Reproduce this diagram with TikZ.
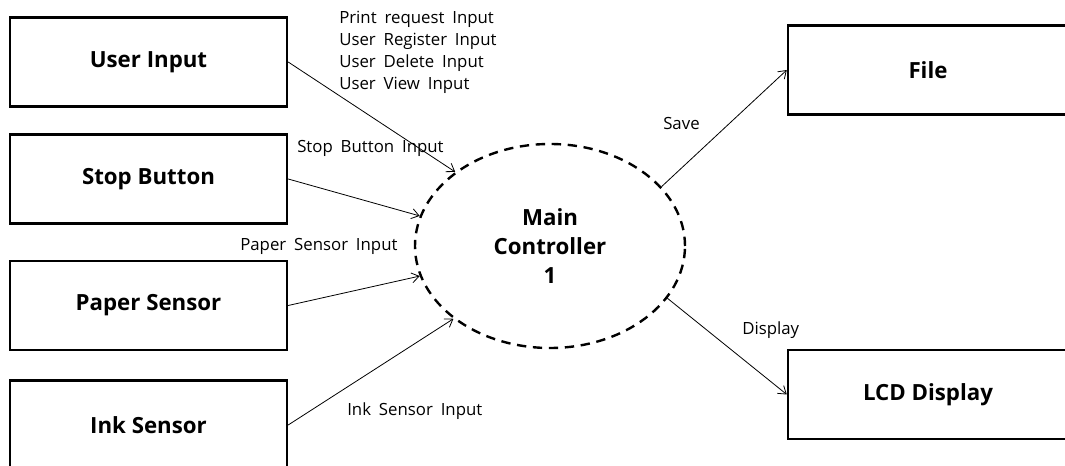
\documentclass[tikz,border=0pt]{standalone}
\usepackage{fontspec}
\setmainfont{Open Sans}
\newfontfamily\lblfont[WordSpace=1.8]{Open Sans}
\usetikzlibrary{arrows.meta,shapes.geometric}
\begin{document}
\begin{tikzpicture}[x=0.75pt,y=-0.75pt,
  box/.style={rectangle,draw,line width=1.8pt,minimum width=207.75pt,minimum height=66.75pt,
    font=\fontsize{16.7}{19}\selectfont\bfseries},
  proc/.style={ellipse,draw,dashed,dash pattern=on 7pt off 5pt,line width=1.8pt,
    minimum width=202.5pt,minimum height=153pt,align=center,
    font=\fontsize{16.7}{21.75}\selectfont\bfseries},
  lbl/.style={inner sep=0pt,align=left,font=\lblfont\fontsize{12.6}{16.5}\selectfont},
  flow/.style={line width=0.6pt,-{Straight Barb[length=5.5pt,width=7.5pt]}}]

  \useasboundingbox (0,0) rectangle (1065,466);
  \clip (0,0) rectangle (1065,466);

  \node[box] (user) at (148.5,62) {User Input};
  \node[box] (stop) at (148.5,179) {Stop Button};
  \node[box] (paper) at (148.5,305.5) {Paper Sensor};
  \node[box] (ink) at (148.5,425) {Ink Sensor};
  \node[box,minimum width=210pt] (file) at (928,70) {File};
  \node[box,minimum width=210pt] (lcd) at (928,394.5) {LCD Display};

  \node[proc] (ctrl) at (550,246) {Main\\Controller\\1};

  \path[flow]
   (user.east) edge (ctrl.142)
   (stop.east) edge (ctrl.167)
   (paper.east) edge (ctrl.193)
   (ink.east) edge (ctrl.217.5)
   (ctrl.28) edge (file.west)
   (ctrl.-24) edge (lcd.west);

  \node[lbl,anchor=north west] (userin) at (339,11) {Print request Input\\User Register Input\\User Delete Input\\User View Input};
  \node[lbl,anchor=base west] (stopin) at (297,153) {Stop Button Input};
  \node[lbl,anchor=base west] (paperin) at (240,251) {Paper Sensor Input};
  \node[lbl,anchor=base west] (inkin) at (347,416) {Ink Sensor Input};
  \node[lbl,anchor=base west] (save) at (663,130) {Save};
  \node[lbl,anchor=base west] (disp) at (742,335) {Display};
\end{tikzpicture}
\end{document}
